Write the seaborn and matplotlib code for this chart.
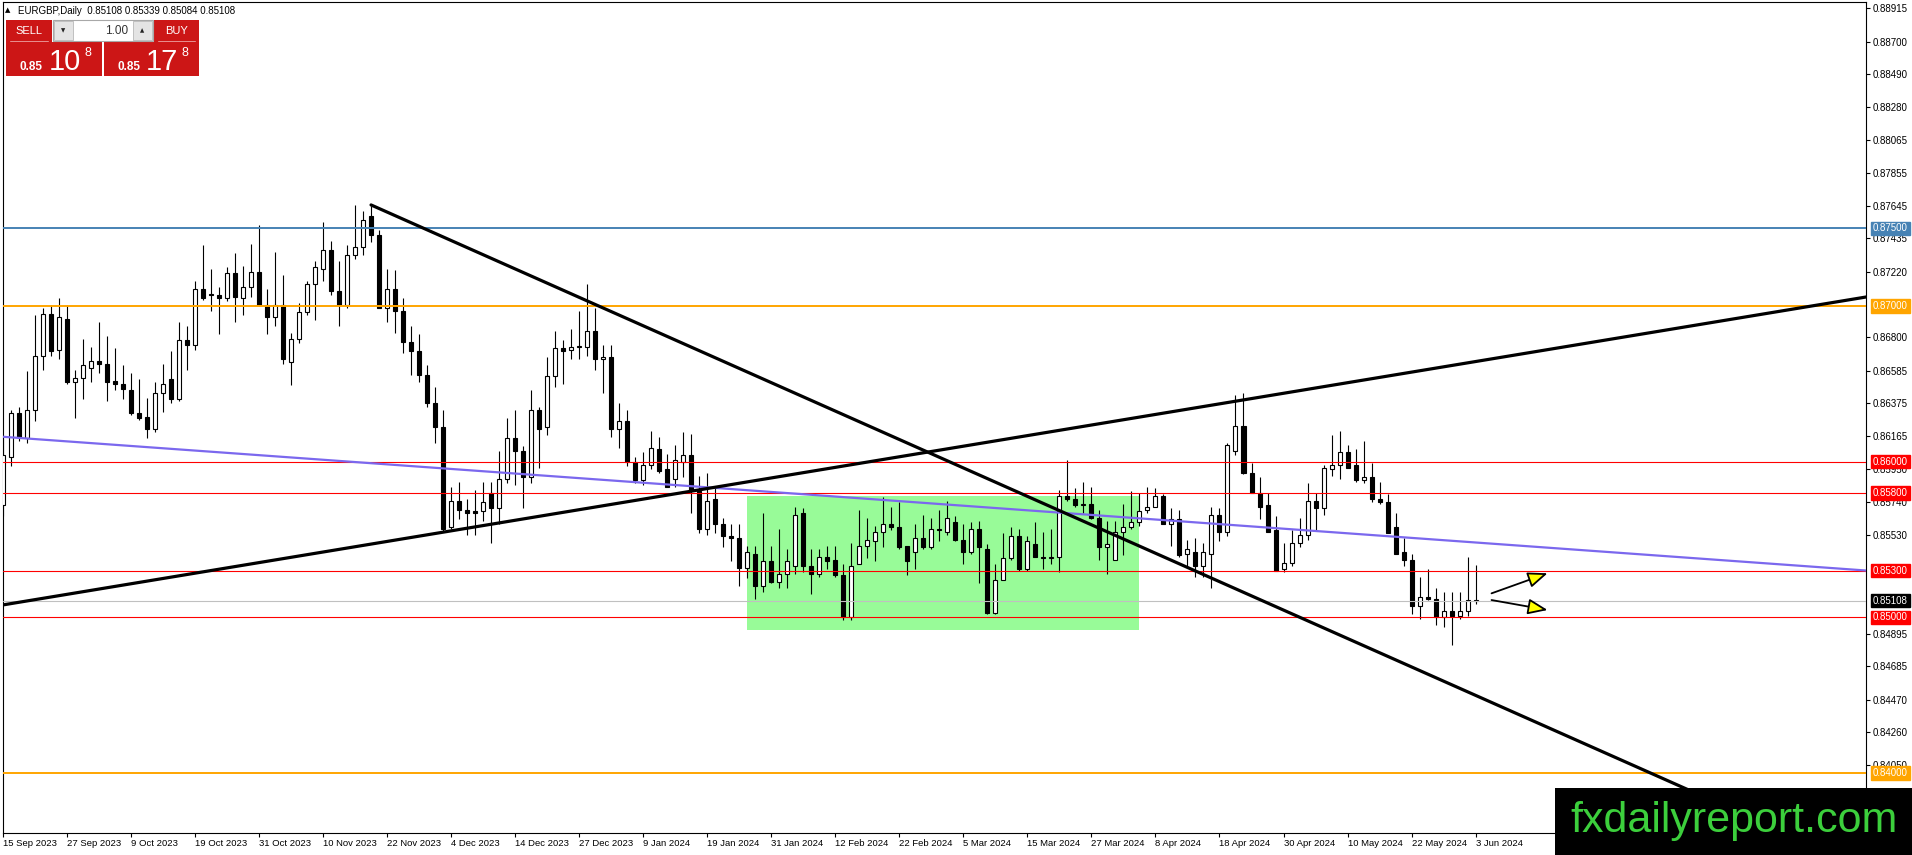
import matplotlib
matplotlib.use("Agg")
import matplotlib.pyplot as plt
from matplotlib.patches import Rectangle
import seaborn as sns
import numpy as np

sns.set_style("white")
plt.rcParams['font.family'] = ['Liberation Sans', 'DejaVu Sans']

# EURGBP daily candles, 15 Sep 2023 .. 3 Jun 2024
opens = [0.8572, 0.8603, 0.8631, 0.8615, 0.8633, 0.8668, 0.8695, 0.8672, 0.8692, 0.8651,
         0.8654, 0.8660, 0.8665, 0.8663, 0.8652, 0.8650, 0.8646, 0.8631, 0.8629, 0.8621,
         0.8644, 0.8653, 0.8640, 0.8678, 0.8675, 0.8711, 0.8708, 0.8707, 0.8705, 0.8721,
         0.8705, 0.8712, 0.8722, 0.8701, 0.8693, 0.8701, 0.8664, 0.8679, 0.8696, 0.8714,
         0.8724, 0.8736, 0.8710, 0.8701, 0.8733, 0.8738, 0.8758, 0.8746, 0.8699, 0.8711,
         0.8697, 0.8677, 0.8671, 0.8656, 0.8638, 0.8622, 0.8558, 0.8575, 0.8569, 0.8568,
         0.8568, 0.8580, 0.8570, 0.8589, 0.8615, 0.8607, 0.8590, 0.8633, 0.8622, 0.8655,
         0.8673, 0.8672, 0.8674, 0.8674, 0.8684, 0.8666, 0.8667, 0.8621, 0.8626, 0.8600,
         0.8588, 0.8598, 0.8608, 0.8595, 0.8589, 0.8600, 0.8604, 0.8581, 0.8557, 0.8576,
         0.8560, 0.8552, 0.8551, 0.8532, 0.8541, 0.8520, 0.8536, 0.8523, 0.8528, 0.8533,
         0.8567, 0.8533, 0.8528, 0.8539, 0.8537, 0.8527, 0.8500, 0.8534, 0.8546, 0.8549,
         0.8555, 0.8560, 0.8558, 0.8546, 0.8542, 0.8551, 0.8545, 0.8557, 0.8555, 0.8561,
         0.8550, 0.8542, 0.8557, 0.8544, 0.8503, 0.8524, 0.8538, 0.8552, 0.8531, 0.8547,
         0.8539, 0.8538, 0.8539, 0.8578, 0.8576, 0.8572, 0.8573, 0.8564, 0.8545, 0.8537,
         0.8555, 0.8558, 0.8561, 0.8569, 0.8571, 0.8578, 0.8560, 0.8563, 0.8541, 0.8542,
         0.8533, 0.8541, 0.8566, 0.8555, 0.8607, 0.8623, 0.8593, 0.8580, 0.8572, 0.8556,
         0.8531, 0.8535, 0.8548, 0.8553, 0.8575, 0.8570, 0.8595, 0.8598, 0.8606, 0.8598,
         0.8588, 0.8590, 0.8576, 0.8574, 0.8558, 0.8542, 0.8537, 0.8507, 0.8513, 0.8512,
         0.8500, 0.8504, 0.8501, 0.8504, 0.85108]
highs = [0.8615, 0.8633, 0.8635, 0.8658, 0.8694, 0.8699, 0.8701, 0.8705, 0.8701, 0.8659,
         0.8679, 0.8674, 0.8690, 0.8681, 0.8673, 0.8662, 0.8657, 0.8653, 0.8641, 0.8651,
         0.8663, 0.8671, 0.8690, 0.8687, 0.8716, 0.8739, 0.8724, 0.8712, 0.8725, 0.8734,
         0.8726, 0.8740, 0.8752, 0.8711, 0.8735, 0.8720, 0.8683, 0.8702, 0.8716, 0.8729,
         0.8754, 0.8742, 0.8729, 0.8739, 0.8765, 0.8761, 0.8764, 0.8749, 0.8724, 0.8723,
         0.8705, 0.8687, 0.8682, 0.8662, 0.8648, 0.8633, 0.8584, 0.8587, 0.8576, 0.8582,
         0.8587, 0.8587, 0.8607, 0.8628, 0.8633, 0.8610, 0.8646, 0.8635, 0.8667, 0.8684,
         0.8678, 0.8685, 0.8697, 0.8714, 0.8699, 0.8675, 0.8675, 0.8638, 0.8633, 0.8603,
         0.8606, 0.8620, 0.8616, 0.8605, 0.8611, 0.8619, 0.8618, 0.8591, 0.8593, 0.8583,
         0.8564, 0.8560, 0.8560, 0.8546, 0.8546, 0.8567, 0.8546, 0.8557, 0.8544, 0.8571,
         0.8570, 0.8544, 0.8544, 0.8546, 0.8546, 0.8534, 0.8548, 0.8569, 0.8564, 0.8559,
         0.8577, 0.8571, 0.8574, 0.8546, 0.8560, 0.8566, 0.8564, 0.8569, 0.8575, 0.8565,
         0.8560, 0.8561, 0.8562, 0.8547, 0.8534, 0.8554, 0.8558, 0.8557, 0.8552, 0.8561,
         0.8555, 0.8557, 0.8582, 0.8601, 0.8583, 0.8587, 0.8584, 0.8569, 0.8562, 0.8562,
         0.8573, 0.8581, 0.8580, 0.8584, 0.8583, 0.8579, 0.8570, 0.8569, 0.8550, 0.8551,
         0.8548, 0.8571, 0.8570, 0.8612, 0.8643, 0.8644, 0.8599, 0.8590, 0.8580, 0.8565,
         0.8548, 0.8556, 0.8564, 0.8586, 0.8580, 0.8598, 0.8617, 0.8620, 0.8611, 0.8608,
         0.8613, 0.8599, 0.8587, 0.8579, 0.8567, 0.8551, 0.8541, 0.8526, 0.8531, 0.8519,
         0.8516, 0.8516, 0.8516, 0.8539, 0.85339]
lows = [0.8565, 0.8597, 0.8613, 0.8612, 0.8626, 0.8659, 0.8668, 0.8666, 0.8650, 0.8628,
        0.8640, 0.8651, 0.8657, 0.8639, 0.8646, 0.8640, 0.8630, 0.8627, 0.8615, 0.8619,
        0.8632, 0.8638, 0.8639, 0.8659, 0.8672, 0.8704, 0.8697, 0.8682, 0.8703, 0.8690,
        0.8694, 0.8706, 0.8700, 0.8682, 0.8687, 0.8663, 0.8649, 0.8676, 0.8694, 0.8691,
        0.8716, 0.8707, 0.8687, 0.8699, 0.8730, 0.8733, 0.8741, 0.8699, 0.8690, 0.8683,
        0.8670, 0.8656, 0.8651, 0.8635, 0.8612, 0.8555, 0.8557, 0.8563, 0.8553, 0.8553,
        0.8562, 0.8548, 0.8560, 0.8586, 0.8585, 0.8570, 0.8586, 0.8596, 0.8617, 0.8648,
        0.8650, 0.8666, 0.8666, 0.8668, 0.8659, 0.8644, 0.8616, 0.8609, 0.8597, 0.8586,
        0.8585, 0.8595, 0.8593, 0.8584, 0.8584, 0.8590, 0.8567, 0.8554, 0.8553, 0.8554,
        0.8545, 0.8536, 0.8520, 0.8525, 0.8512, 0.8516, 0.8522, 0.8519, 0.8519, 0.8528,
        0.8529, 0.8515, 0.8526, 0.8531, 0.8526, 0.8498, 0.8498, 0.8534, 0.8538, 0.8536,
        0.8545, 0.8556, 0.8544, 0.8527, 0.8531, 0.8544, 0.8544, 0.8549, 0.8553, 0.8549,
        0.8534, 0.8541, 0.8522, 0.8502, 0.8502, 0.8524, 0.8537, 0.8530, 0.8530, 0.8539,
        0.8531, 0.8534, 0.8529, 0.8575, 0.8571, 0.8567, 0.8563, 0.8537, 0.8528, 0.8537,
        0.8540, 0.8557, 0.8559, 0.8567, 0.8571, 0.8560, 0.8546, 0.8539, 0.8533, 0.8526,
        0.8526, 0.8519, 0.8549, 0.8552, 0.8604, 0.8592, 0.8580, 0.8563, 0.8555, 0.8530,
        0.8529, 0.8533, 0.8545, 0.8550, 0.8556, 0.8566, 0.8591, 0.8589, 0.8596, 0.8587,
        0.8586, 0.8574, 0.8573, 0.8554, 0.8541, 0.8533, 0.8502, 0.8499, 0.8511, 0.8495,
        0.8494, 0.8482, 0.8499, 0.8501, 0.85084]
closes = [0.8604, 0.8631, 0.8616, 0.8633, 0.8668, 0.8695, 0.8671, 0.8693, 0.8651, 0.8654,
          0.8662, 0.8665, 0.8663, 0.8651, 0.8650, 0.8647, 0.8631, 0.8628, 0.8621, 0.8644,
          0.8650, 0.8640, 0.8678, 0.8675, 0.8711, 0.8705, 0.8707, 0.8705, 0.8721, 0.8706,
          0.8712, 0.8722, 0.8701, 0.8693, 0.8701, 0.8666, 0.8679, 0.8696, 0.8714, 0.8725,
          0.8736, 0.8710, 0.8701, 0.8733, 0.8738, 0.8755, 0.8746, 0.8699, 0.8711, 0.8697,
          0.8677, 0.8671, 0.8656, 0.8638, 0.8622, 0.8557, 0.8575, 0.8569, 0.8567, 0.8567,
          0.8574, 0.8570, 0.8589, 0.8615, 0.8607, 0.8590, 0.8633, 0.8621, 0.8655, 0.8673,
          0.8671, 0.8674, 0.8674, 0.8684, 0.8666, 0.8667, 0.8621, 0.8626, 0.8600, 0.8588,
          0.8598, 0.8609, 0.8594, 0.8584, 0.8601, 0.8604, 0.8582, 0.8557, 0.8575, 0.8560,
          0.8552, 0.8551, 0.8532, 0.8542, 0.8520, 0.8536, 0.8523, 0.8528, 0.8536, 0.8566,
          0.8533, 0.8528, 0.8539, 0.8536, 0.8527, 0.8500, 0.8533, 0.8546, 0.8550, 0.8555,
          0.8560, 0.8558, 0.8545, 0.8536, 0.8551, 0.8545, 0.8557, 0.8556, 0.8564, 0.8550,
          0.8542, 0.8557, 0.8545, 0.8503, 0.8524, 0.8538, 0.8552, 0.8531, 0.8549, 0.8539,
          0.8538, 0.8539, 0.8578, 0.8576, 0.8572, 0.8573, 0.8564, 0.8545, 0.8547, 0.8555,
          0.8558, 0.8561, 0.8568, 0.8571, 0.8578, 0.8560, 0.8563, 0.8540, 0.8544, 0.8533,
          0.8542, 0.8566, 0.8555, 0.8611, 0.8623, 0.8593, 0.8580, 0.8571, 0.8555, 0.8530,
          0.8535, 0.8548, 0.8553, 0.8575, 0.8570, 0.8596, 0.8598, 0.8606, 0.8596, 0.8588,
          0.8590, 0.8576, 0.8574, 0.8554, 0.8541, 0.8537, 0.8507, 0.8513, 0.8512, 0.8500,
          0.8504, 0.8501, 0.8504, 0.8511, 0.85108]

date_labels = ["15 Sep 2023", "27 Sep 2023", "9 Oct 2023", "19 Oct 2023", "31 Oct 2023",
               "10 Nov 2023", "22 Nov 2023", "4 Dec 2023", "14 Dec 2023", "27 Dec 2023",
               "9 Jan 2024", "19 Jan 2024", "31 Jan 2024", "12 Feb 2024", "22 Feb 2024",
               "5 Mar 2024", "15 Mar 2024", "27 Mar 2024", "8 Apr 2024", "18 Apr 2024",
               "30 Apr 2024", "10 May 2024", "22 May 2024", "3 Jun 2024"]

price_ticks = [0.88915, 0.88700, 0.88490, 0.88280, 0.88065, 0.87855, 0.87645, 0.87435,
               0.87220, 0.86800, 0.86585, 0.86375, 0.86165, 0.85950, 0.85740, 0.85530,
               0.84895, 0.84685, 0.84470, 0.84260, 0.84050]

# horizontal levels and their price tags
level_prices = [0.875, 0.870, 0.860, 0.858, 0.853, 0.85108, 0.850, 0.840]
level_colors = ['#4682b4', '#ffa500', '#ff0000', '#ff0000', '#ff0000', '#c0c0c0', '#ff0000', '#ffa500']
tag_colors = ['#4682b4', '#ffa500', '#ff0000', '#ff0000', '#ff0000', '#000000', '#ff0000', '#ffa500']

# trend lines: (bar index, price) anchors
down_line_x = [45.96, 233.0]
down_line_y = [0.8765, 0.8338]
up_line_x = [0.0, 233.0]
up_line_y = [0.8508, 0.8706]
mid_line_x = [0.0, 233.0]
mid_line_y = [0.8616, 0.8530]

# consolidation box
zone_x = [92.96, 141.96]
zone_y = [0.8492, 0.8578]

# the two arrows at the right: tail -> tip
arrow_tail_x = [186.0, 186.0]
arrow_tail_y = [0.85154, 0.85111]
arrow_tip_x = [193.0, 193.0]
arrow_tip_y = [0.85283, 0.85047]

quote = "EURGBP,Daily  0.85108 0.85339 0.85084 0.85108"

W, H = 1912, 855
fig = plt.figure(figsize=(W / 100, H / 100), dpi=100)
fig.patch.set_facecolor('white')
ax = fig.add_axes([2.5 / W, 1 - 833 / H, (1866 - 2.5) / W, (833 - 1.7) / H])
ax.set_facecolor('white')

o = np.array(opens); h = np.array(highs); l = np.array(lows); c = np.array(closes)
x = np.arange(len(o))
up = c >= o
bottom = np.minimum(o, c)
height = np.maximum(np.abs(c - o), 0.000012)

# consolidation zone behind the candles
ax.add_patch(Rectangle((zone_x[0], zone_y[0]), zone_x[1] - zone_x[0], zone_y[1] - zone_y[0],
                       facecolor='#98fb98', edgecolor='none', zorder=1))

ax.vlines(x, l, h, color='black', lw=0.8, zorder=3)
ax.bar(x[up], height[up], bottom=bottom[up], width=0.5, color='white',
       edgecolor='black', linewidth=0.8, zorder=3.5)
ax.bar(x[~up], height[~up], bottom=bottom[~up], width=0.5, color='black',
       edgecolor='black', linewidth=0.8, zorder=3.5)

for price, col in zip(level_prices, level_colors):
    lw = 1.4 if col in ('#4682b4', '#ffa500') else 0.8
    ax.axhline(price, color=col, lw=lw, zorder=4)

sns.lineplot(x=mid_line_x, y=mid_line_y, ax=ax, color='#7b68ee', linewidth=1.6, zorder=5)
sns.lineplot(x=up_line_x, y=up_line_y, ax=ax, color='black', linewidth=2.3, zorder=6)
sns.lineplot(x=down_line_x, y=down_line_y, ax=ax, color='black', linewidth=2.3, zorder=6)

for tx, ty, px, py in zip(arrow_tail_x, arrow_tail_y, arrow_tip_x, arrow_tip_y):
    ax.annotate('', xy=(px, py), xytext=(tx, ty),
                arrowprops=dict(arrowstyle='-|>,head_length=1.0,head_width=0.4',
                                fc='yellow', ec='black', lw=1.3, mutation_scale=12,
                                shrinkA=0, shrinkB=0), zorder=7)

ax.set_xlim(-0.1, 232.8)
ax.set_ylim(0.83614, 0.88956)
ax.set_xlabel('')
ax.set_ylabel('')

ax.yaxis.tick_right()
ax.set_yticks(price_ticks)
ax.set_yticklabels([f"{v:.5f}" for v in price_ticks])
ax.set_xticks(np.arange(0, len(o), 8))
ax.set_xticklabels(date_labels, ha='left')
ax.tick_params(axis='y', which='both', right=True, left=False, direction='out',
               length=3, width=0.8, pad=2, labelsize=7, colors='black')
ax.tick_params(axis='x', which='both', bottom=True, direction='out',
               length=3, width=0.8, pad=1.5, labelsize=6.8, colors='black')
for sp in ax.spines.values():
    sp.set_visible(True)
    sp.set_color('black')
    sp.set_linewidth(0.8)

# price tags on the right axis
ytr = ax.get_yaxis_transform()
for price, col in zip(level_prices, tag_colors):
    ax.text(1.0038, price, f"{price:.5f}", transform=ytr, ha='left', va='center',
            color='white', fontsize=7, clip_on=False, zorder=20,
            bbox=dict(boxstyle='square,pad=0.18', fc=col, ec=col))

# overlay in pixel coordinates for the terminal widgets
ov = fig.add_axes([0, 0, 1, 1], zorder=10)
ov.set_xlim(0, W)
ov.set_ylim(H, 0)
ov.axis('off')
ov.patch.set_visible(False)

ov.text(5, 10.5, '\u25b2', fontsize=5, va='center', ha='left', color='black',
        family=['DejaVu Sans'])
ov.text(18, 10.5, quote, fontsize=7, va='center', ha='left', color='black')

red = '#cc1616'
for (x0, y0, x1, y1) in [(6, 20, 52, 42), (154, 20, 199, 42), (6, 42, 102, 76), (104, 42, 199, 76)]:
    ov.add_patch(Rectangle((x0, y0), x1 - x0, y1 - y0, facecolor=red, edgecolor='none'))
ov.plot([10, 48], [41.5, 41.5], color='#e89090', lw=0.7)
ov.plot([158, 195], [41.5, 41.5], color='#e89090', lw=0.7)
ov.add_patch(Rectangle((53, 20), 100, 21, facecolor='white', edgecolor='#a8a8a8', lw=0.8))
ov.add_patch(Rectangle((54, 21), 19, 19, facecolor='#e4e4e4', edgecolor='#b8b8b8', lw=0.6))
ov.add_patch(Rectangle((133, 21), 19, 19, facecolor='#e4e4e4', edgecolor='#b8b8b8', lw=0.6))
ov.text(63.5, 30.5, '\u25bc', fontsize=4, ha='center', va='center', color='#222222',
        family=['DejaVu Sans'])
ov.text(142.5, 30.5, '\u25b2', fontsize=4, ha='center', va='center', color='#222222',
        family=['DejaVu Sans'])
ov.text(128, 30.5, '1.00', fontsize=8.5, ha='right', va='center', color='#333333')
ov.text(29, 31, 'SELL', fontsize=8, ha='center', va='center', color='white')
ov.text(176.5, 31, 'BUY', fontsize=8, ha='center', va='center', color='white')

ov.text(20, 70, '0.85', fontsize=8.5, fontweight='bold', ha='left', va='baseline', color='white')
ov.text(49, 70, '10', fontsize=21, ha='left', va='baseline', color='white')
ov.text(85, 56, '8', fontsize=9, ha='left', va='baseline', color='white')
ov.text(118, 70, '0.85', fontsize=8.5, fontweight='bold', ha='left', va='baseline', color='white')
ov.text(146, 70, '17', fontsize=21, ha='left', va='baseline', color='white')
ov.text(182, 56, '8', fontsize=9, ha='left', va='baseline', color='white')

# watermark box at the bottom right
ov.add_patch(Rectangle((1555, 788), W - 1555, H - 788, facecolor='black', edgecolor='none'))
ov.text(1734, 821, 'fxdailyreport.com', fontsize=31, ha='center', va='center', color='#3ccf3c')

fig.savefig('out.png', dpi=100, facecolor='white')
